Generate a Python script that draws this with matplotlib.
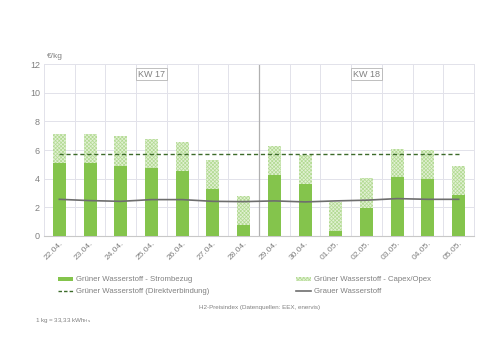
import numpy as np
import matplotlib.pyplot as plt
from matplotlib.lines import Line2D
from matplotlib.patches import Patch

# data
days = ['22.04.', '23.04.', '24.04.', '25.04.', '26.04.', '27.04.', '28.04.',
        '29.04.', '30.04.', '01.05.', '02.05.', '03.05.', '04.05.', '05.05.']
strom = [5.13, 5.08, 4.92, 4.75, 4.52, 3.29, 0.79,
         4.24, 3.66, 0.33, 1.98, 4.10, 3.96, 2.89]
total = [7.15, 7.10, 6.95, 6.76, 6.55, 5.29, 2.80,
         6.25, 5.69, 2.38, 4.03, 6.10, 5.99, 4.90]
grau = [2.56, 2.47, 2.42, 2.54, 2.54, 2.42, 2.40,
        2.45, 2.38, 2.45, 2.50, 2.61, 2.56, 2.56]
direkt = 5.76
weeks = ['KW 17', 'KW 18']

capex = [t - s for t, s in zip(total, strom)]

green = '#84c44c'
light = '#e2f1d4'
txt = '#808080'

plt.rcParams['hatch.linewidth'] = 0.5
plt.rcParams['font.family'] = 'Liberation Sans'

fig = plt.figure(figsize=(5, 3.45), dpi=100)
ax = fig.add_axes([0.088, 0.316, 0.86, 0.498])

x = np.arange(len(days))
ax.bar(x, strom, width=0.42, color=green, zorder=3)
ax.bar(x, capex, bottom=strom, width=0.42, color=light, edgecolor='#b2da92',
       hatch='xxxxxxxxx', linewidth=0, zorder=3)
ax.plot(x, grau, color='#6e6e6e', lw=1.2, zorder=4)
ax.plot([x[0], x[-1]], [direkt, direkt], color='#3d6b2a', lw=1.0,
        ls=(0, (3, 2)), zorder=4)

ax.set_xlim(-0.5, len(days) - 0.5)
ax.set_ylim(0, 12)
ax.set_yticks(range(0, 13, 2))
ax.set_xticks(x)
ax.set_xticklabels(days, rotation=45, ha='right', rotation_mode='anchor')
ax.tick_params(colors=txt, labelsize=6.5, length=0, pad=3)
ax.tick_params(axis='x', labelsize=6)

# grid: horizontal per 2, vertical between days
for yv in range(2, 13, 2):
    ax.axhline(yv, color='#e2e2ea', lw=0.7, zorder=1)
for xv in np.arange(0.5, len(days) - 0.5):
    ax.axvline(xv, color='#e2e2ea', lw=0.7, zorder=1)
ax.axvline(6.5, color='#b0b0b0', lw=0.9, zorder=2)
for s in ['left', 'right', 'top']:
    ax.spines[s].set_color('#e2e2ea')
    ax.spines[s].set_linewidth(0.7)
ax.spines['bottom'].set_color('#c8c8c8')
ax.spines['bottom'].set_linewidth(0.8)

for wx, w in zip([3, 10], weeks):
    ax.text(wx, 11.3, w, ha='center', va='center', fontsize=6.5, color=txt,
            bbox=dict(boxstyle='square,pad=0.2', fc='white', ec='#b4b4b4', lw=0.6),
            zorder=5)

fig.text(0.094, 0.835, '€/kg', fontsize=6, color=txt, ha='left', va='center')

handles = [
    Patch(facecolor=green, edgecolor='none'),
    Line2D([0], [0], color='#3d6b2a', lw=1.0, ls=(0, (2.5, 1.5))),
    Patch(facecolor=light, edgecolor='#b2da92', hatch='xxxxxxxxx', linewidth=0),
    Line2D([0], [0], color='#6e6e6e', lw=1.2),
]
labels = ['Grüner Wasserstoff - Strombezug',
          'Grüner Wasserstoff (Direktverbindung)',
          'Grüner Wasserstoff - Capex/Opex', 'Grauer Wasserstoff']
fig.legend(handles, labels, ncol=2, loc='upper left',
           bbox_to_anchor=(0.116, 0.199), frameon=False, fontsize=5.6,
           labelcolor=txt, handlelength=1.9, handletextpad=0.4,
           columnspacing=11.2, labelspacing=0.6, handleheight=0.4,
           borderpad=0, borderaxespad=0)

fig.text(0.52, 0.11, 'H2-Preisindex (Datenquellen: EEX, enervis)', fontsize=4.5,
         color=txt, ha='center', va='center')
fig.text(0.07, 0.07, '1 kg = 33,33 kWh$_{\\mathrm{Hs}}$', fontsize=4.5,
         color=txt, ha='left', va='center')

fig.savefig('out.png', dpi=100, facecolor='white')
